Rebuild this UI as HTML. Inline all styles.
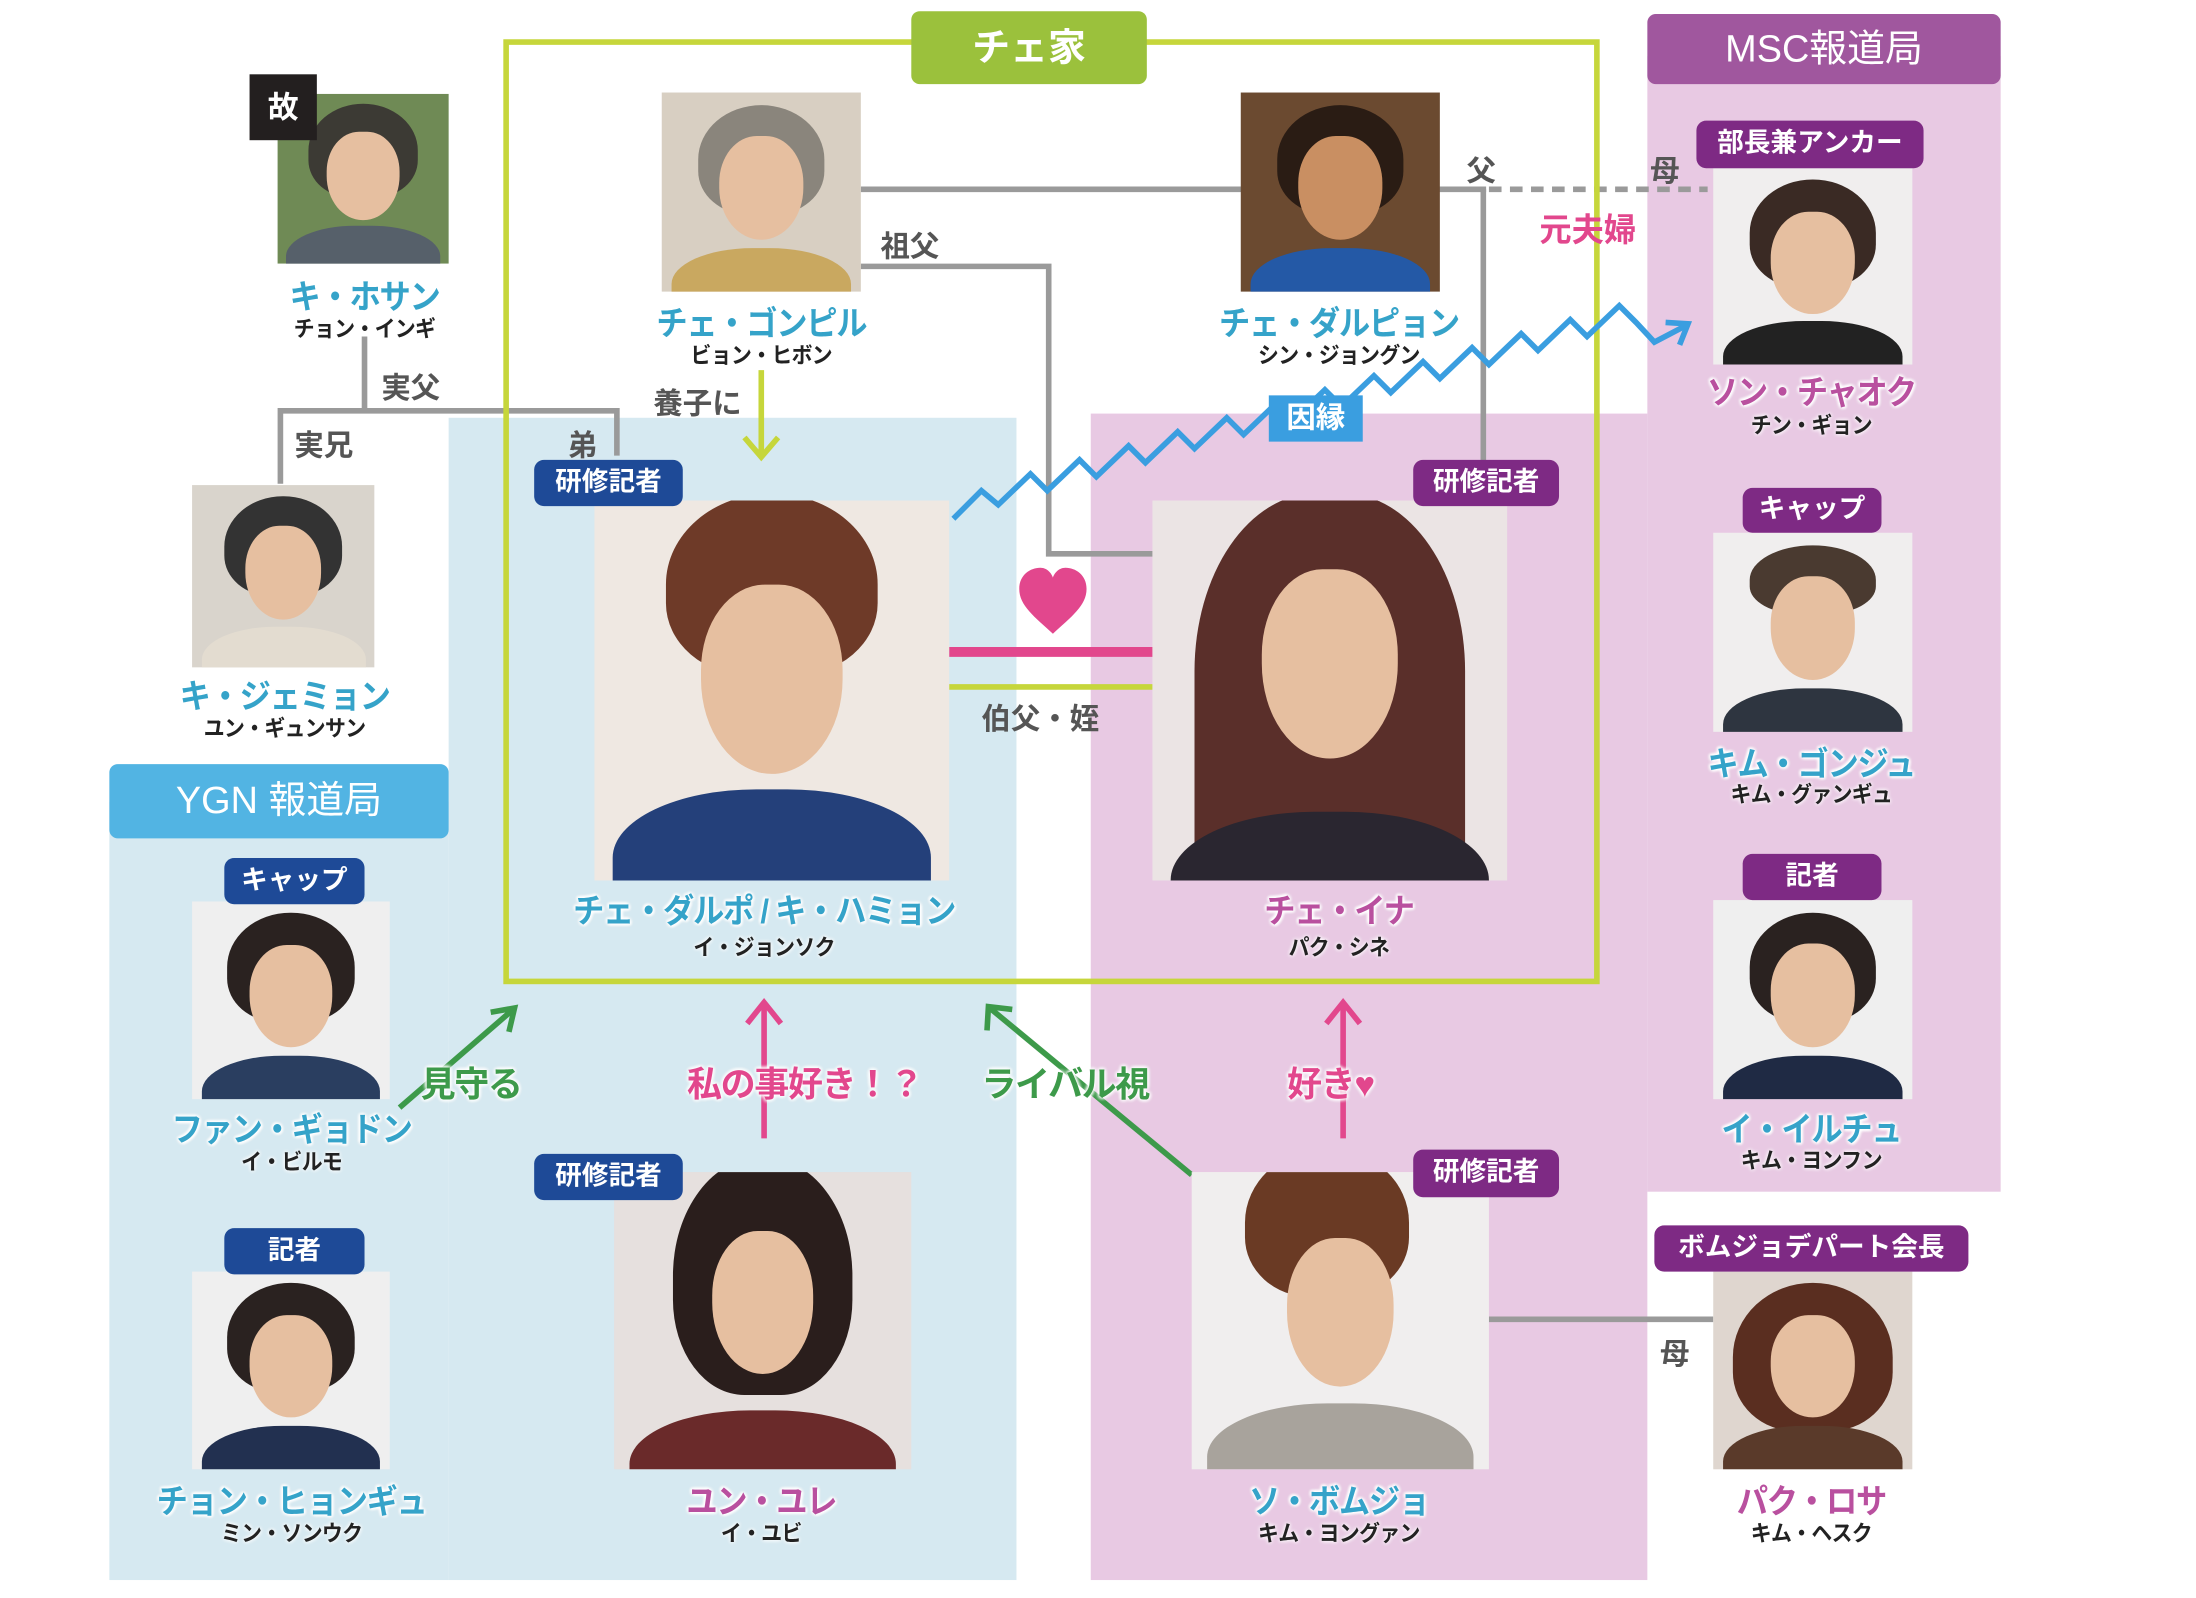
<!DOCTYPE html>
<html><head><meta charset="utf-8">
<style>
html,body{margin:0;padding:0;background:#fff;}
body{width:2196px;height:1594px;overflow:hidden;position:relative;}
#w{position:absolute;left:0;top:0;width:1570px;height:1140px;transform:scale(1.402);transform-origin:0 0;font-family:"Liberation Sans","Noto Sans CJK JP",sans-serif;}
#w div,#w span{position:absolute;box-sizing:border-box;}
.ph{overflow:hidden;}
.ph i{position:absolute;display:block;}
.hair{left:18%;top:6%;width:64%;height:55%;border-radius:50% 50% 40% 40%;}
.face{left:29%;top:22%;width:42%;height:52%;border-radius:45% 45% 50% 50%;background:#e6bfa0;}
.body{left:5%;top:78%;width:90%;height:40%;border-radius:45% 45% 0 0;}
.nm{font-weight:bold;font-size:24px;white-space:nowrap;transform:translateX(-50%) scaleX(0.93);text-shadow:0 0 3px #fff,0 0 3px #fff,0 0 3px #fff,1px 1px 2px #fff,-1px -1px 2px #fff;letter-spacing:-1px;}
.ac{font-weight:bold;font-size:16px;color:#222;white-space:nowrap;transform:translateX(-50%) scaleX(0.93);text-shadow:0 0 3px #fff,0 0 3px #fff;letter-spacing:-0.5px;}
.b{color:#35a3c9;}
.p{color:#b9509f;}
.bd{color:#fff;font-weight:bold;font-size:19px;text-align:center;border-radius:7px;white-space:nowrap;}
.nv{background:#1e4a97;}
.pu{background:#7e2a84;}
.lb{font-weight:bold;font-size:21px;color:#555;white-space:nowrap;}
.hl{font-weight:bold;font-size:25px;white-space:nowrap;text-shadow:0 0 3px #fff,0 0 3px #fff,0 0 3px #fff,0 0 3px #fff;letter-spacing:-1px;}
svg{position:absolute;left:0;top:0;}
</style></head><body>
<div id="w">
<div style="left:320px;top:298px;width:405px;height:829px;background:#d6e9f1;"></div>
<div style="left:78px;top:572px;width:242px;height:555px;background:#d6e9f1;"></div>
<div style="left:778px;top:295px;width:397px;height:832px;background:#e8c9e3;"></div>
<div style="left:1175px;top:40px;width:252px;height:810px;background:#e8c9e3;"></div>

<svg width="1570" height="1140" viewBox="0 0 1570 1140">
<g stroke="#9a9a9a" stroke-width="4" fill="none">
<polyline points="260,240 260,293"/>
<polyline points="200,345 200,293 440,293 440,325"/>
<polyline points="614,135 1060,135"/>
<polyline points="614,190 748,190 748,395 822,395"/>
<polyline points="1058,135 1058,330"/>
<line x1="1062" y1="941" x2="1222" y2="941"/>
</g>
<line x1="1062" y1="135" x2="1218" y2="135" stroke="#9a9a9a" stroke-width="4" stroke-dasharray="9,6"/>
<rect x="361" y="30" width="778" height="670" fill="none" stroke="#c6d63b" stroke-width="4"/>
<line x1="543" y1="264" x2="543" y2="325" stroke="#c6d63b" stroke-width="4"/>
<polyline points="531,312 543,326 555,312" stroke="#c6d63b" stroke-width="4" fill="none"/>
<line x1="677" y1="465" x2="822" y2="465" stroke="#e2478d" stroke-width="7"/>
<line x1="677" y1="490" x2="822" y2="490" stroke="#c6d63b" stroke-width="4"/>
<path d="M751,452 C738,440 727,432 727,420 C727,410 735,405 742,405 C747,405 750,409 751,412 C752,409 755,405 760,405 C767,405 775,410 775,420 C775,432 764,440 751,452 Z" fill="#e2478d"/>
<polyline points="680,370 700,350 712,360 735,338 747,350 770,328 782,340 805,318 817,330 840,308 852,320 875,298 887,310 910,288 922,300 945,278 957,290 980,268 992,280 1015,258 1027,270 1050,248 1062,260 1085,238 1097,250 1120,228 1132,240 1155,218 1167,230 1180,244 1203,232" fill="none" stroke="#3a9ee0" stroke-width="4"/>
<polyline points="1188,230 1204,231 1198,246" fill="none" stroke="#3a9ee0" stroke-width="4"/>
<g stroke-width="4" fill="none">
<line x1="285" y1="790" x2="366" y2="720" stroke="#3d9a4a"/>
<polyline points="350,722 367,719 363,736" stroke="#3d9a4a"/>
<line x1="545" y1="812" x2="545" y2="716" stroke="#e2478d"/>
<polyline points="533,730 545,715 557,730" stroke="#e2478d"/>
<line x1="850" y1="838" x2="706" y2="719" stroke="#3d9a4a"/>
<polyline points="704,735 705,718 722,720" stroke="#3d9a4a"/>
<line x1="958" y1="812" x2="958" y2="716" stroke="#e2478d"/>
<polyline points="946,730 958,715 970,730" stroke="#e2478d"/>
</g>
</svg>

<div style="left:650px;top:8px;width:168px;height:52px;background:#9bc13c;border-radius:6px;color:#fff;font-size:27px;font-weight:bold;text-align:center;line-height:52px;">チェ家</div>
<div style="left:1175px;top:10px;width:252px;height:50px;background:#a0579e;border-radius:6px;color:#fff;font-size:27px;text-align:center;line-height:50px;">MSC報道局</div>
<div style="left:78px;top:545px;width:242px;height:53px;background:#52b4e3;border-radius:6px;color:#fff;font-size:27px;text-align:center;line-height:53px;">YGN 報道局</div>

<div class="ph" style="left:198px;top:67px;width:122px;height:121px;background:#6f8a55;"><i class="hair" style="background:#3c3a34"></i><i class="face"></i><i class="body" style="background:#56606a"></i></div>
<div style="left:178px;top:53px;width:48px;height:47px;background:#231f1f;color:#fff;font-size:22px;font-weight:bold;text-align:center;line-height:47px;">故</div>
<div class="ph" style="left:137px;top:346px;width:130px;height:130px;background:#d9d4cc;"><i class="hair" style="background:#333"></i><i class="face"></i><i class="body" style="background:#e3dcd0"></i></div>
<div class="ph" style="left:472px;top:66px;width:142px;height:142px;background:#d8cfc2;"><i class="hair" style="background:#8a857c"></i><i class="face"></i><i class="body" style="background:#c9a860"></i></div>
<div class="ph" style="left:885px;top:66px;width:142px;height:142px;background:#6b4a30;"><i class="hair" style="background:#2a1c14"></i><i class="face" style="background:#c98f62"></i><i class="body" style="background:#2459a6"></i></div>
<div class="ph" style="left:424px;top:357px;width:253px;height:271px;background:#efe8e2;"><i class="hair" style="background:#6e3a28;left:20%;top:-2%;width:60%;height:48%"></i><i class="face" style="left:30%;top:22%;width:40%;height:50%"></i><i class="body" style="background:#24407a;top:76%"></i></div>
<div class="ph" style="left:822px;top:357px;width:253px;height:271px;background:#ebe4e4;"><i class="hair" style="background:#5a2f2a;left:12%;top:-2%;width:76%;height:104%;border-radius:45% 45% 10% 10%"></i><i class="face" style="left:31%;top:18%;width:38%;height:50%"></i><i class="body" style="background:#2a2630;top:82%"></i></div>
<div class="ph" style="left:1222px;top:120px;width:142px;height:140px;background:#f0eeee;"><i class="hair" style="background:#3a2a24"></i><i class="face"></i><i class="body" style="background:#222"></i></div>
<div class="ph" style="left:1222px;top:380px;width:142px;height:142px;background:#f0eeee;"><i class="hair" style="background:#4a3a30;height:35%"></i><i class="face"></i><i class="body" style="background:#2e3540"></i></div>
<div class="ph" style="left:1222px;top:642px;width:142px;height:142px;background:#efefef;"><i class="hair" style="background:#2a2220"></i><i class="face"></i><i class="body" style="background:#1f2a44"></i></div>
<div class="ph" style="left:1222px;top:907px;width:142px;height:141px;background:#dfd6cf;"><i class="hair" style="background:#5a2e20;left:10%;width:80%;height:75%"></i><i class="face"></i><i class="body" style="background:#5a3a2a"></i></div>
<div class="ph" style="left:137px;top:643px;width:141px;height:141px;background:#efefef;"><i class="hair" style="background:#2a2220"></i><i class="face"></i><i class="body" style="background:#2a3e60"></i></div>
<div class="ph" style="left:137px;top:907px;width:141px;height:141px;background:#efefef;"><i class="hair" style="background:#2a2220"></i><i class="face"></i><i class="body" style="background:#223050"></i></div>
<div class="ph" style="left:438px;top:836px;width:212px;height:212px;background:#e6e0de;"><i class="hair" style="background:#2a1e1c;left:20%;top:-5%;width:60%;height:80%"></i><i class="face" style="left:33%;top:20%;width:34%;height:48%"></i><i class="body" style="background:#6a2a2a;top:80%"></i></div>
<div class="ph" style="left:850px;top:836px;width:212px;height:212px;background:#f0eeee;"><i class="hair" style="background:#6a3a24;left:18%;top:-8%;width:55%;height:50%"></i><i class="face" style="left:32%;top:22%;width:36%;height:50%"></i><i class="body" style="background:#a8a39c;top:78%"></i></div>

<div class="bd nv" style="left:381px;top:328px;width:106px;height:33px;line-height:33px;">研修記者</div>
<div class="bd pu" style="left:1008px;top:328px;width:104px;height:33px;line-height:33px;">研修記者</div>
<div class="bd pu" style="left:1210px;top:86px;width:162px;height:34px;line-height:34px;">部長兼アンカー</div>
<div class="bd pu" style="left:1243px;top:348px;width:99px;height:32px;line-height:32px;">キャップ</div>
<div class="bd pu" style="left:1243px;top:609px;width:99px;height:33px;line-height:33px;">記者</div>
<div class="bd pu" style="left:1180px;top:874px;width:224px;height:33px;line-height:33px;">ボムジョデパート会長</div>
<div class="bd nv" style="left:160px;top:612px;width:100px;height:33px;line-height:33px;">キャップ</div>
<div class="bd nv" style="left:160px;top:876px;width:100px;height:33px;line-height:33px;">記者</div>
<div class="bd nv" style="left:381px;top:823px;width:106px;height:33px;line-height:33px;">研修記者</div>
<div class="bd pu" style="left:1008px;top:820px;width:104px;height:34px;line-height:34px;">研修記者</div>
<div style="left:905px;top:282px;width:67px;height:33px;background:#3a9ee0;color:#fff;font-size:21px;font-weight:bold;text-align:center;line-height:33px;">因縁</div>

<span class="nm b" style="left:260px;top:192px;">キ・ホサン</span><span class="ac" style="left:260px;top:221px;">チョン・インギ</span>
<span class="nm b" style="left:203px;top:477px;">キ・ジェミョン</span><span class="ac" style="left:203px;top:506px;">ユン・ギュンサン</span>
<span class="nm b" style="left:543px;top:211px;">チェ・ゴンピル</span><span class="ac" style="left:543px;top:240px;">ビョン・ヒボン</span>
<span class="nm b" style="left:955px;top:211px;">チェ・ダルピョン</span><span class="ac" style="left:955px;top:240px;">シン・ジョングン</span>
<span class="nm b" style="left:545px;top:630px;">チェ・ダルポ / キ・ハミョン</span><span class="ac" style="left:545px;top:662px;">イ・ジョンソク</span>
<span class="nm p" style="left:955px;top:630px;">チェ・イナ</span><span class="ac" style="left:955px;top:662px;">パク・シネ</span>
<span class="nm p" style="left:1292px;top:260px;">ソン・チャオク</span><span class="ac" style="left:1292px;top:290px;">チン・ギョン</span>
<span class="nm b" style="left:1292px;top:525px;">キム・ゴンジュ</span><span class="ac" style="left:1292px;top:553px;">キム・グァンギュ</span>
<span class="nm b" style="left:1292px;top:786px;">イ・イルチュ</span><span class="ac" style="left:1292px;top:814px;">キム・ヨンフン</span>
<span class="nm p" style="left:1292px;top:1051px;">パク・ロサ</span><span class="ac" style="left:1292px;top:1080px;">キム・ヘスク</span>
<span class="nm b" style="left:208px;top:786px;">ファン・ギョドン</span><span class="ac" style="left:208px;top:815px;">イ・ビルモ</span>
<span class="nm b" style="left:208px;top:1051px;">チョン・ヒョンギュ</span><span class="ac" style="left:208px;top:1080px;">ミン・ソンウク</span>
<span class="nm p" style="left:543px;top:1051px;">ユン・ユレ</span><span class="ac" style="left:543px;top:1080px;">イ・ユビ</span>
<span class="nm b" style="left:955px;top:1051px;">ソ・ボムジョ</span><span class="ac" style="left:955px;top:1080px;">キム・ヨングァン</span>

<span class="lb" style="left:272px;top:261px;">実父</span>
<span class="lb" style="left:210px;top:302px;">実兄</span>
<span class="lb" style="left:405px;top:302px;">弟</span>
<span class="lb" style="left:466px;top:272px;">養子に</span>
<span class="lb" style="left:628px;top:160px;">祖父</span>
<span class="lb" style="left:1046px;top:106px;">父</span>
<span class="lb" style="left:1177px;top:106px;">母</span>
<span class="lb" style="left:1098px;top:145px;color:#e2478d;font-size:23px;">元夫婦</span>
<span class="lb" style="left:700px;top:497px;">伯父・姪</span>
<span class="lb" style="left:1184px;top:950px;">母</span>
<span class="hl" style="left:300px;top:754px;color:#3d9a4a;">見守る</span>
<span class="hl" style="left:490px;top:754px;color:#e2478d;">私の事好き！？</span>
<span class="hl" style="left:700px;top:754px;color:#3d9a4a;">ライバル視</span>
<span class="hl" style="left:918px;top:754px;color:#e2478d;">好き♥</span>
</div>
</body></html>
